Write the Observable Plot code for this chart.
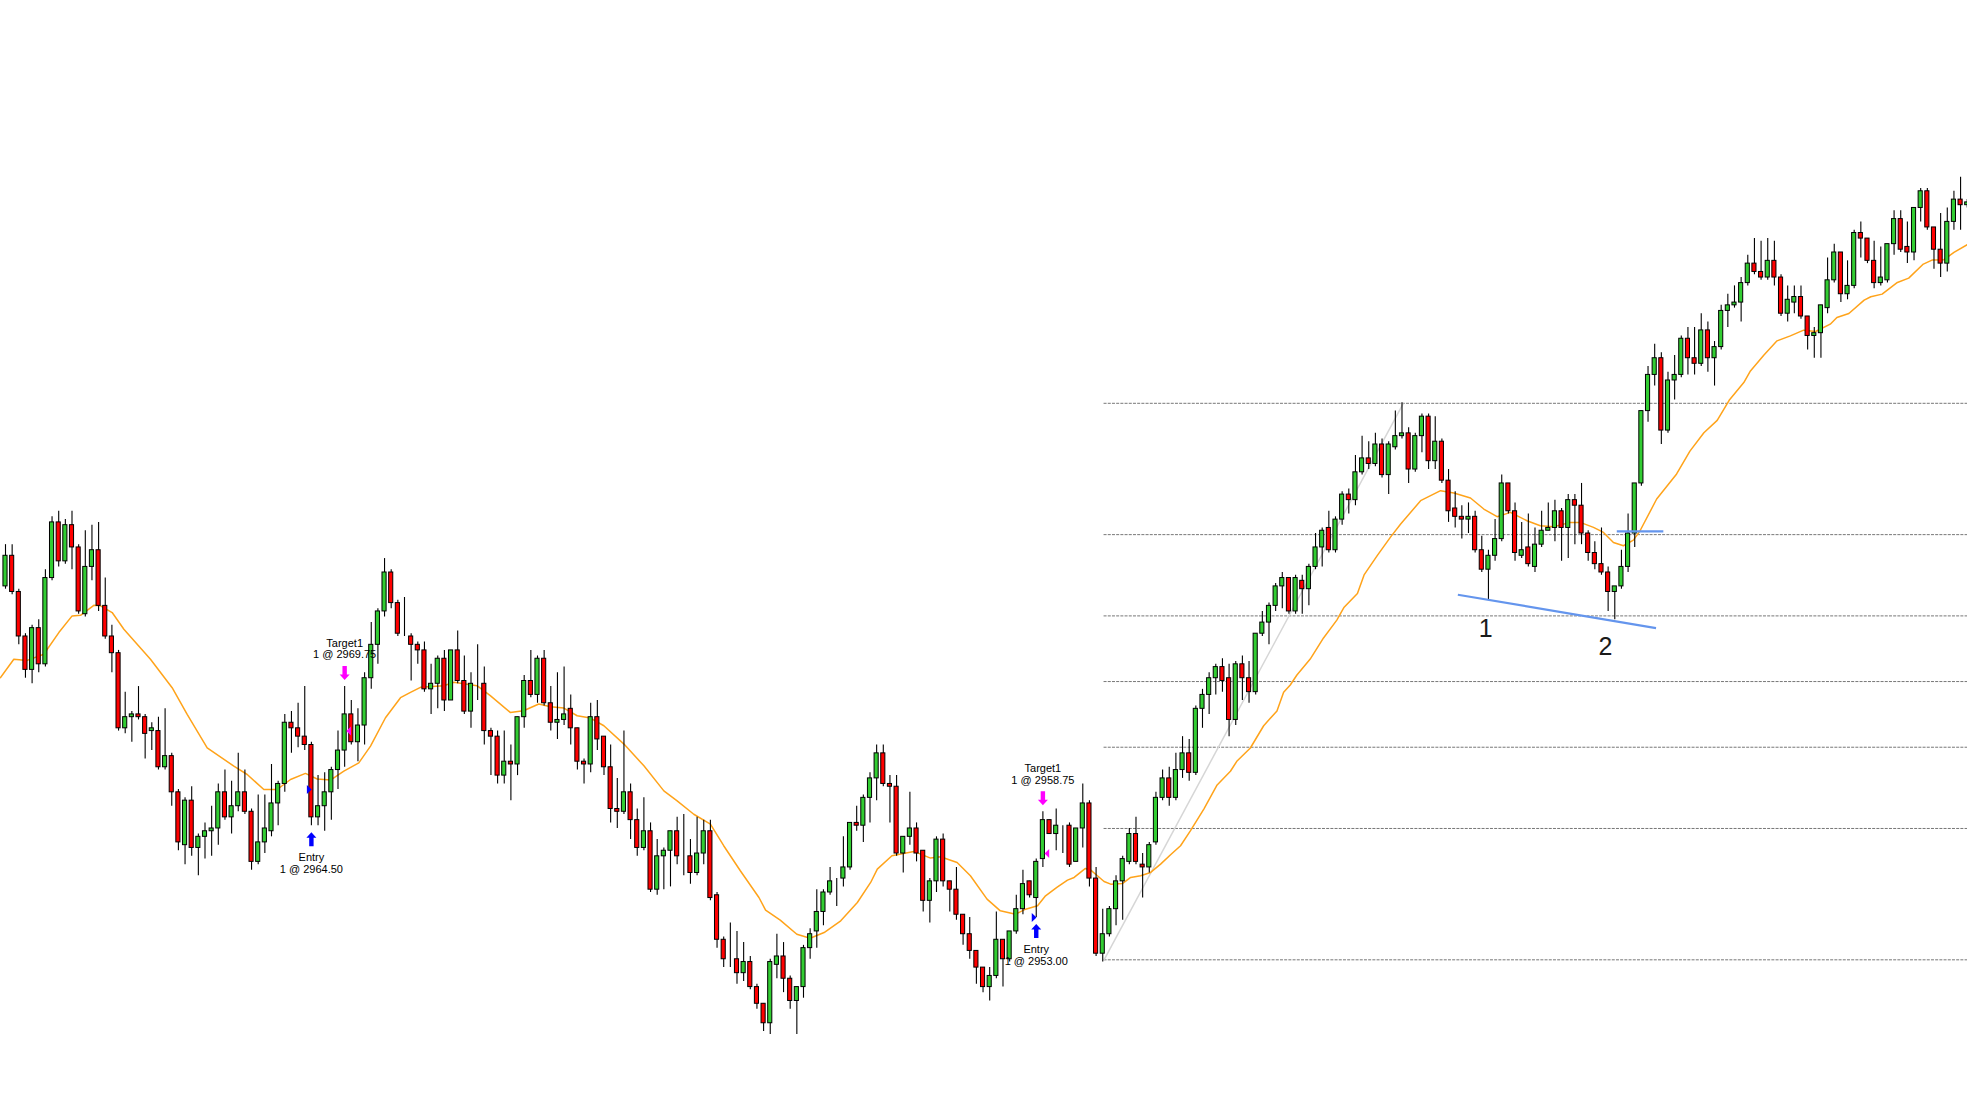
<!DOCTYPE html>
<html>
<head>
<meta charset="utf-8">
<script src="https://cdn.jsdelivr.net/npm/d3@7"></script>
<script src="https://cdn.jsdelivr.net/npm/@observablehq/plot@0.6"></script>
<style>
  html, body { margin: 0; padding: 0; background: #fff; overflow: hidden; }
</style>
</head>
<body>
<div id="chart"></div>
<script>
// candle values, one entry per bar
const opens = [
  2982.75, 2985.5, 2982.25, 2978.25, 2975.25, 2979.0, 2975.75, 2983.5, 2988.5, 2985.0,
  2988.25, 2986.25, 2980.25, 2984.5, 2986.0, 2981.0, 2978.25, 2976.75, 2970.0, 2971.0,
  2971.25, 2971.0, 2969.75, 2969.75, 2966.5, 2967.5, 2964.25, 2959.5, 2963.5, 2959.25,
  2960.25, 2960.75, 2961.0, 2964.25, 2962.0, 2963.0, 2964.25, 2962.5, 2958.0, 2959.75,
  2960.75, 2963.25, 2965.0, 2970.5, 2970.0, 2969.25, 2968.5, 2962.0, 2963.0, 2964.25,
  2966.25, 2968.0, 2971.25, 2968.75, 2970.25, 2974.5, 2977.5, 2980.5, 2984.0, 2981.25,
  2978.25, 2978.25, 2977.5, 2977.0, 2973.5, 2974.0, 2976.25, 2972.5, 2977.0, 2974.25,
  2971.5, 2974.0, 2974.0, 2969.75, 2969.25, 2965.75, 2967.0, 2966.75, 2971.0, 2974.25,
  2973.0, 2976.25, 2972.25, 2970.5, 2970.75, 2971.75, 2970.0, 2967.0, 2966.75, 2971.0,
  2969.25, 2966.5, 2962.75, 2962.5, 2964.25, 2961.75, 2959.25, 2960.75, 2955.5, 2958.5,
  2959.0, 2960.75, 2958.5, 2958.5, 2957.0, 2958.75, 2960.75, 2955.0, 2951.0, 2949.25,
  2949.25, 2948.0, 2949.0, 2946.75, 2945.25, 2943.5, 2948.75, 2949.5, 2947.5, 2945.5,
  2946.75, 2950.25, 2951.75, 2953.5, 2955.25, 2956.5, 2956.5, 2957.5, 2961.5, 2961.25,
  2963.75, 2965.5, 2967.75, 2965.0, 2964.75, 2958.75, 2960.25, 2961.0, 2959.0, 2954.5,
  2956.25, 2960.0, 2956.25, 2955.5, 2953.25, 2951.5, 2950.0, 2948.5, 2946.75, 2947.75,
  2951.0, 2949.25, 2951.75, 2953.75, 2956.25, 2954.75, 2958.25, 2961.75, 2960.5, 2961.25,
  2961.25, 2958.0, 2961.0, 2963.25, 2956.5, 2949.75, 2951.5, 2953.75, 2956.25, 2958.0,
  2960.5, 2957.75, 2957.5, 2959.75, 2963.75, 2965.5, 2963.75, 2966.25, 2967.75, 2966.0,
  2971.75, 2973.0, 2974.5, 2975.5, 2974.5, 2970.75, 2975.75, 2974.5, 2973.25, 2978.5,
  2979.5, 2981.0, 2982.75, 2983.5, 2980.5, 2983.25, 2982.5, 2984.5, 2986.25, 2988.0,
  2986.0, 2988.75, 2991.0, 2990.5, 2993.0, 2994.25, 2993.75, 2995.5, 2992.75, 2995.25,
  2996.25, 2996.5, 2993.25, 2996.25, 2998.0, 2994.0, 2995.75, 2992.25, 2989.75, 2989.0,
  2988.75, 2989.0, 2986.0, 2984.25, 2985.5, 2987.0, 2992.0, 2989.5, 2985.5, 2986.25,
  2984.5, 2986.5, 2987.75, 2988.0, 2989.5, 2988.0, 2990.5, 2990.0, 2987.5, 2985.75,
  2984.75, 2984.0, 2982.25, 2982.75, 2984.5, 2987.5, 2992.0, 2998.5, 3001.75, 3003.25,
  2996.75, 3001.25, 3001.75, 3005.0, 3003.25, 3002.75, 3005.75, 3003.25, 3004.25, 3007.5,
  3008.0, 3008.25, 3010.0, 3011.75, 3011.0, 3010.5, 3012.0, 3010.5, 3007.25, 3008.25,
  3008.75, 3007.0, 3005.25, 3005.5, 3007.75, 3010.25, 3012.75, 3009.0, 3009.75, 3014.5,
  3014.0, 3012.0, 3010.0, 3010.25, 3013.5, 3015.75, 3013.25, 3012.75, 3016.75, 3018.25,
  3015.0, 3013.0, 3011.75, 3015.5, 3017.5, 3017.0
];
const highs = [
  2986.5, 2986.5, 2982.5, 2978.5, 2979.25, 2979.75, 2984.25, 2989.0, 2989.5, 2988.75,
  2989.5, 2986.5, 2987.75, 2988.25, 2988.5, 2983.5, 2979.25, 2977.0, 2973.25, 2971.5,
  2973.75, 2971.25, 2970.5, 2971.0, 2971.75, 2967.75, 2964.5, 2963.75, 2964.75, 2960.5,
  2961.5, 2963.0, 2965.0, 2966.25, 2965.25, 2967.75, 2966.25, 2962.75, 2964.0, 2964.0,
  2966.75, 2965.25, 2971.25, 2971.5, 2972.25, 2973.75, 2968.75, 2965.75, 2966.0, 2966.5,
  2969.75, 2973.75, 2972.5, 2971.75, 2975.0, 2979.5, 2980.75, 2985.25, 2984.25, 2981.5,
  2981.75, 2978.5, 2977.75, 2977.75, 2975.75, 2976.5, 2977.0, 2977.0, 2978.75, 2976.5,
  2975.0, 2977.5, 2975.5, 2970.0, 2969.75, 2969.75, 2968.5, 2971.0, 2974.75, 2977.0,
  2976.5, 2977.0, 2973.75, 2975.0, 2975.5, 2973.0, 2970.0, 2967.25, 2972.25, 2972.5,
  2969.25, 2968.5, 2965.5, 2969.75, 2965.0, 2962.75, 2963.75, 2961.5, 2960.0, 2959.25,
  2960.75, 2962.0, 2962.25, 2960.0, 2962.0, 2961.75, 2961.75, 2955.25, 2951.25, 2952.5,
  2951.75, 2950.75, 2949.5, 2947.0, 2945.25, 2949.25, 2951.5, 2950.75, 2947.75, 2946.75,
  2950.5, 2952.0, 2955.5, 2955.5, 2957.5, 2956.5, 2960.25, 2961.5, 2963.0, 2964.0,
  2966.0, 2968.5, 2968.5, 2965.75, 2965.75, 2960.25, 2964.25, 2961.5, 2959.0, 2956.5,
  2960.25, 2960.5, 2956.25, 2957.5, 2953.25, 2953.0, 2950.0, 2948.5, 2948.5, 2953.5,
  2951.0, 2951.75, 2955.0, 2957.25, 2956.25, 2958.25, 2962.5, 2961.75, 2962.75, 2961.25,
  2961.5, 2961.0, 2965.0, 2963.5, 2957.5, 2953.75, 2954.0, 2956.75, 2958.5, 2961.0,
  2962.0, 2958.75, 2959.75, 2964.25, 2966.25, 2966.5, 2967.75, 2969.25, 2969.0, 2972.0,
  2973.5, 2975.0, 2975.75, 2976.25, 2975.75, 2976.0, 2976.5, 2976.0, 2978.5, 2980.5,
  2981.25, 2983.0, 2984.0, 2983.5, 2983.75, 2983.75, 2984.75, 2987.5, 2988.0, 2989.5,
  2989.0, 2991.25, 2991.5, 2994.5, 2996.25, 2995.75, 2996.5, 2996.0, 2995.75, 2998.5,
  2999.25, 2997.0, 2996.5, 2998.25, 2998.25, 2998.0, 2996.0, 2993.25, 2991.25, 2990.0,
  2990.25, 2989.5, 2987.25, 2986.0, 2988.75, 2992.75, 2992.0, 2990.25, 2988.5, 2989.25,
  2988.0, 2989.5, 2990.25, 2990.5, 2989.75, 2991.0, 2991.0, 2992.0, 2987.75, 2986.75,
  2988.0, 2984.5, 2982.75, 2986.0, 2989.25, 2992.0, 2998.5, 3002.5, 3004.5, 3003.75,
  3002.0, 3003.5, 3005.25, 3006.0, 3006.0, 3007.25, 3006.5, 3004.75, 3008.0, 3009.0,
  3009.75, 3010.5, 3012.5, 3014.0, 3013.75, 3014.0, 3013.75, 3010.75, 3009.75, 3009.75,
  3009.75, 3007.0, 3006.0, 3008.0, 3012.25, 3013.5, 3012.75, 3012.0, 3014.75, 3015.5,
  3014.0, 3013.75, 3013.25, 3013.5, 3016.5, 3016.5, 3015.5, 3016.75, 3018.5, 3018.5,
  3015.0, 3016.25, 3016.75, 3018.25, 3019.5, 3017.5
];
const lows = [
  2982.5, 2982.0, 2977.5, 2974.5, 2974.0, 2975.0, 2975.5, 2983.25, 2984.5, 2984.75,
  2984.25, 2980.25, 2980.0, 2983.25, 2980.5, 2978.0, 2975.0, 2969.75, 2969.5, 2968.75,
  2970.75, 2967.25, 2968.0, 2966.25, 2966.25, 2963.0, 2959.0, 2957.75, 2958.5, 2956.75,
  2958.25, 2958.5, 2959.5, 2961.75, 2960.5, 2962.5, 2962.25, 2957.25, 2957.75, 2958.75,
  2960.25, 2961.25, 2964.25, 2967.75, 2968.25, 2968.0, 2961.25, 2961.25, 2960.75, 2961.75,
  2964.5, 2966.5, 2968.5, 2967.0, 2968.5, 2973.5, 2975.75, 2980.0, 2980.75, 2978.25,
  2978.25, 2974.25, 2975.75, 2973.25, 2971.25, 2971.75, 2971.5, 2972.5, 2974.0, 2971.25,
  2970.0, 2972.5, 2968.5, 2965.75, 2965.0, 2965.0, 2963.5, 2965.75, 2970.0, 2972.75,
  2972.25, 2972.0, 2969.75, 2969.0, 2970.25, 2968.5, 2966.25, 2965.0, 2966.0, 2968.0,
  2965.75, 2961.5, 2961.0, 2962.25, 2960.0, 2958.5, 2959.0, 2955.25, 2955.0, 2955.5,
  2955.75, 2957.75, 2956.75, 2956.0, 2956.75, 2957.75, 2954.5, 2950.25, 2948.5, 2948.5,
  2947.0, 2947.25, 2946.5, 2944.75, 2942.75, 2942.5, 2947.5, 2946.25, 2944.75, 2942.5,
  2945.75, 2949.25, 2950.25, 2952.25, 2955.0, 2954.0, 2955.75, 2957.25, 2960.75, 2959.75,
  2961.5, 2963.5, 2964.75, 2961.5, 2958.5, 2957.0, 2959.5, 2958.0, 2953.5, 2952.5,
  2955.25, 2955.75, 2953.5, 2952.75, 2950.5, 2949.25, 2947.0, 2946.25, 2945.5, 2947.5,
  2946.75, 2949.0, 2951.5, 2953.25, 2954.75, 2953.0, 2957.5, 2960.5, 2959.0, 2958.75,
  2957.5, 2958.0, 2959.25, 2955.75, 2949.5, 2949.0, 2951.25, 2952.25, 2952.75, 2957.75,
  2957.75, 2954.75, 2957.0, 2959.5, 2963.5, 2963.0, 2963.5, 2965.5, 2965.25, 2965.75,
  2970.0, 2971.25, 2973.0, 2973.25, 2969.25, 2970.25, 2972.5, 2972.25, 2973.0, 2978.25,
  2977.5, 2980.5, 2980.75, 2980.25, 2980.25, 2980.25, 2981.0, 2984.25, 2984.5, 2985.75,
  2985.75, 2988.25, 2989.25, 2990.0, 2992.75, 2993.25, 2993.5, 2992.5, 2991.0, 2995.0,
  2996.0, 2992.0, 2993.0, 2994.75, 2993.25, 2993.25, 2992.0, 2988.5, 2988.0, 2987.0,
  2987.5, 2985.75, 2984.0, 2981.5, 2985.0, 2986.75, 2989.25, 2985.0, 2985.25, 2984.5,
  2984.0, 2986.25, 2987.75, 2986.75, 2985.0, 2985.25, 2986.5, 2986.5, 2985.0, 2984.25,
  2983.75, 2980.5, 2979.75, 2982.5, 2984.0, 2986.25, 2991.75, 2997.5, 3000.75, 2995.5,
  2996.5, 2999.5, 3001.5, 3001.75, 3001.75, 3002.5, 3002.0, 3000.75, 3004.0, 3006.0,
  3007.75, 3006.5, 3009.75, 3010.75, 3010.25, 3010.25, 3009.75, 3007.0, 3006.5, 3007.25,
  3006.75, 3004.0, 3003.25, 3003.25, 3007.25, 3010.0, 3008.25, 3008.5, 3009.5, 3012.25,
  3011.75, 3009.5, 3009.75, 3010.0, 3012.5, 3012.75, 3011.75, 3012.0, 3015.5, 3014.75,
  3011.25, 3010.5, 3011.0, 3014.75, 3014.75, 3016.75
];
const closes = [
  2985.5, 2982.25, 2978.25, 2975.25, 2979.0, 2975.75, 2983.5, 2988.5, 2985.0, 2988.25,
  2986.25, 2980.5, 2984.5, 2986.0, 2981.0, 2978.25, 2976.75, 2970.0, 2971.0, 2971.25,
  2971.0, 2969.5, 2970.0, 2966.5, 2967.5, 2964.25, 2959.75, 2963.5, 2959.25, 2960.25,
  2960.75, 2961.0, 2964.25, 2962.0, 2963.0, 2964.25, 2962.5, 2958.0, 2959.75, 2961.0,
  2963.25, 2965.0, 2970.5, 2970.0, 2969.25, 2968.5, 2962.0, 2963.0, 2964.25, 2966.25,
  2968.0, 2971.25, 2968.75, 2970.25, 2974.5, 2977.5, 2980.5, 2984.0, 2981.25, 2978.5,
  2978.25, 2977.5, 2977.0, 2973.5, 2974.0, 2976.25, 2972.5, 2977.0, 2974.25, 2971.5,
  2974.0, 2974.0, 2969.75, 2969.25, 2965.75, 2967.0, 2966.75, 2971.0, 2974.25, 2973.0,
  2976.25, 2972.25, 2970.5, 2970.75, 2971.25, 2970.0, 2967.0, 2966.75, 2971.0, 2969.0,
  2966.5, 2962.75, 2962.5, 2964.25, 2961.75, 2959.25, 2960.75, 2955.5, 2958.5, 2959.0,
  2960.75, 2958.5, 2958.5, 2957.0, 2958.75, 2960.75, 2954.75, 2951.0, 2949.25, 2949.25,
  2948.0, 2949.0, 2946.75, 2945.25, 2943.5, 2949.0, 2949.5, 2947.5, 2945.5, 2946.75,
  2950.25, 2951.5, 2953.5, 2955.25, 2956.25, 2956.5, 2957.5, 2961.5, 2961.25, 2963.75,
  2965.5, 2967.75, 2965.0, 2964.75, 2958.75, 2960.25, 2961.0, 2958.75, 2954.5, 2956.25,
  2960.0, 2956.25, 2955.5, 2953.25, 2951.5, 2950.0, 2948.5, 2946.75, 2947.75, 2951.0,
  2949.25, 2951.75, 2953.75, 2956.0, 2955.0, 2958.0, 2961.75, 2960.5, 2961.25, 2961.25,
  2957.75, 2961.0, 2963.25, 2956.5, 2949.75, 2951.5, 2953.75, 2956.25, 2958.25, 2960.5,
  2958.0, 2957.5, 2959.5, 2963.75, 2965.5, 2963.75, 2966.25, 2967.75, 2966.0, 2971.75,
  2973.0, 2974.5, 2975.5, 2974.25, 2970.75, 2975.75, 2974.5, 2973.25, 2978.5, 2979.5,
  2981.0, 2982.75, 2983.5, 2980.5, 2983.5, 2982.5, 2984.5, 2986.25, 2987.75, 2986.0,
  2988.75, 2991.0, 2990.5, 2993.0, 2994.25, 2993.75, 2995.5, 2992.75, 2995.5, 2996.25,
  2996.5, 2993.25, 2996.25, 2998.0, 2994.0, 2995.75, 2992.25, 2989.5, 2989.0, 2988.75,
  2989.0, 2986.0, 2984.25, 2985.5, 2987.0, 2992.0, 2989.5, 2985.75, 2986.0, 2984.75,
  2986.5, 2987.75, 2988.0, 2989.5, 2988.0, 2990.5, 2990.0, 2987.5, 2985.75, 2984.75,
  2984.0, 2982.25, 2982.75, 2984.5, 2987.5, 2992.0, 2998.5, 3001.75, 3003.25, 2996.75,
  3001.25, 3001.75, 3005.0, 3003.25, 3002.75, 3005.75, 3003.25, 3004.25, 3007.5, 3008.0,
  3008.25, 3010.0, 3011.75, 3011.0, 3010.5, 3012.0, 3010.5, 3007.25, 3008.5, 3008.75,
  3007.0, 3005.25, 3005.5, 3008.0, 3010.25, 3012.75, 3009.0, 3009.75, 3014.5, 3014.0,
  3012.0, 3010.0, 3010.5, 3013.5, 3015.75, 3013.0, 3012.75, 3016.75, 3018.25, 3015.0,
  3013.0, 3011.75, 3015.5, 3017.5, 3017.0, 3017.25
];

// moving average line, sampled along the bars (bar index, price)
const emaIdx = [
  -0.75, 1.25, 3.26, 5.76, 8.02, 10.02, 11.28, 13.28, 14.29, 16.04, 17.8, 21.8, 25.06, 27.32,
  30.33, 34.34, 36.35, 38.85, 40.85, 42.86, 45.1, 46.87, 48.87, 50.88, 53.13, 54.89, 57.14,
  59.4, 60.9, 62.4, 65.9, 67.4, 70.9, 72.9, 75.9, 77.9, 80.2, 81.95, 83.96, 85.97, 87.97,
  89.98, 93.0, 96.0, 99.0, 101.0, 103.5, 106.0, 108.0, 110.5, 113.3, 114.3, 116.5, 119.0,
  121.0, 123.1, 125.6, 128.1, 130.1, 131.1, 133.3, 136.6, 139.1, 140.6, 143.1, 145.1, 147.6,
  149.6, 151.9, 153.4, 155.2, 156.4, 158.1, 159.7, 160.7, 162.4, 163.2, 164.2, 165.2, 166.2,
  168.0, 169.2, 170.7, 172.2, 173.7, 175.2, 176.7, 178.2, 180.2, 182.2, 184.2, 185.2, 187.2,
  189.2, 191.2, 192.2, 193.2, 194.2, 196.2, 198.2, 200.2, 201.3, 203.3, 204.3, 206.3, 208.3,
  209.8, 212.8, 215.8, 217.8, 220.3, 222.3, 224.3, 226.3, 228.8, 230.8, 232.8, 235.3, 236.8,
  238.8, 240.3, 241.8, 243.3, 244.8, 245.8, 248.3, 251.3, 253.3, 255.4, 257.4, 259.2, 261.4,
  262.4, 264.4, 266.4, 268.4, 270.4, 272.2, 274.4, 275.4, 277.2, 279.5, 280.5, 282.2, 284.5,
  286.2, 288.4, 289.7, 291.5, 293.0, 295.0
];
const emaVal = [
  2974.55, 2976.2, 2976.1, 2976.65, 2978.6, 2980.1, 2980.15, 2981.05, 2981.0, 2980.4, 2978.9,
  2976.2, 2973.65, 2971.25, 2968.25, 2966.6, 2965.85, 2964.5, 2964.5, 2965.4, 2965.95, 2965.45,
  2965.35, 2966.15, 2966.9, 2968.4, 2970.95, 2972.75, 2973.23, 2973.68, 2973.83, 2974.13,
  2973.83, 2972.93, 2971.43, 2971.58, 2972.18, 2971.94, 2971.82, 2971.13, 2970.92, 2970.23,
  2968.58, 2966.63, 2964.38, 2963.48, 2962.28, 2961.4, 2959.45, 2957.2, 2954.8, 2953.66,
  2952.76, 2951.5, 2951.14, 2951.65, 2952.7, 2954.35, 2956.15, 2957.35, 2958.55, 2958.94,
  2958.34, 2958.46, 2957.95, 2956.75, 2954.65, 2953.6, 2953.3, 2953.75, 2954.05, 2954.95,
  2955.7, 2956.36, 2956.6, 2957.41, 2957.26, 2956.75, 2956.24, 2956.0, 2956.06, 2956.6,
  2956.75, 2957.05, 2957.8, 2958.64, 2959.45, 2960.8, 2962.74, 2964.91, 2966.14, 2967.07,
  2968.23, 2970.23, 2971.56, 2973.23, 2973.89, 2974.79, 2976.22, 2978.12, 2979.72, 2980.88,
  2982.11, 2983.78, 2985.54, 2987.2, 2988.35, 2990.45, 2991.35, 2991.14, 2990.69, 2989.7,
  2989.01, 2989.4, 2988.65, 2988.2, 2988.11, 2988.5, 2988.5, 2988.05, 2987.6, 2986.7, 2986.4,
  2986.91, 2987.75, 2990.6, 2992.85, 2994.9, 2996.56, 2997.67, 2999.47, 3001.06, 3002.11,
  3003.52, 3004.81, 3005.26, 3005.77, 3005.65, 3006.31, 3006.91, 3007.27, 3008.47, 3008.77,
  3009.01, 3010.06, 3010.45, 3011.71, 3012.07, 3012.1, 3012.76, 3013.45
];

// retracement levels and the swing they are drawn from
const fibPrices = [2949.2, 2961.0, 2968.3, 2974.2, 2980.1, 2987.4, 2999.2];
const fibAnchorIdx = [165.2, 210.2];
const fibAnchorPrice = [2949.2, 2999.2];

// hand-drawn blue lines
const blueLineIdx = [[218.4, 248.2], [242.3, 249.3]];
const bluePrice = [[2982.0, 2979.0], [2987.7, 2987.7]];

// swing labels
const waveLabels = ["1", "2"];
const waveIdx = [222.6, 240.6];
const wavePrice = [2978.9, 2977.3];

// trades
const entryIdx = [46, 155];
const entryPrice = [2964.5, 2953.0];
const targetIdx = [51, 156];
const targetPrice = [2969.75, 2958.75];

const candles = opens.map((o, i) => ({
  i, open: o, high: highs[i], low: lows[i], close: closes[i]
}));

const entries = entryIdx.map((k, j) => ({k, price: entryPrice[j], low: lows[k]}));
const targets = targetIdx.map((k, j) => ({k, price: targetPrice[j], high: highs[k]}));
const fmt = d3.format(".2f");

const fibSwing = [{x1: fibAnchorIdx[0], y1: fibAnchorPrice[0], x2: fibAnchorIdx[1], y2: fibAnchorPrice[1]}];
const blueLines = blueLineIdx.map((xs, j) => ({x1: xs[0], x2: xs[1], y1: bluePrice[j][0], y2: bluePrice[j][1]}));
const waves = waveLabels.map((t, j) => ({t, k: waveIdx[j], p: wavePrice[j]}));

// marker shapes (pixel units)
const arrowUp = {draw(c) {
  c.moveTo(0, -7); c.lineTo(5, -1.5); c.lineTo(2.2, -1.5); c.lineTo(2.2, 7);
  c.lineTo(-2.2, 7); c.lineTo(-2.2, -1.5); c.lineTo(-5, -1.5); c.closePath();
}};
const arrowDown = {draw(c) {
  c.moveTo(0, 7); c.lineTo(5, 1.5); c.lineTo(2.2, 1.5); c.lineTo(2.2, -7);
  c.lineTo(-2.2, -7); c.lineTo(-2.2, 1.5); c.lineTo(-5, 1.5); c.closePath();
}};
const triRight = {draw(c) {
  c.moveTo(-4.5, -4.5); c.lineTo(0.3, 0); c.lineTo(-4.5, 4.5); c.closePath();
}};
const triLeft = {draw(c) {
  c.moveTo(1.7, 0); c.lineTo(6.3, -4.5); c.lineTo(6.3, 4.5); c.closePath();
}};

const font = "Liberation Sans, Arial, Helvetica, sans-serif";
const halfBody = 0.31;

const chart = Plot.plot({
  width: 1967,
  height: 1099,
  margin: 0,
  style: {background: "#fff", fontFamily: font},
  x: {domain: [-0.752, 295.04], range: [0, 1967], axis: null},
  y: {domain: [2936.65, 3035.39], range: [1099, 0], axis: null},
  marks: [
    Plot.ruleY(fibPrices, {
      y: d => d, x1: () => fibAnchorIdx[0], x2: () => 300,
      stroke: "#777", strokeWidth: 1, strokeDasharray: "3,1.2"
    }),
    Plot.link(fibSwing, {
      x1: "x1", y1: "y1", x2: "x2", y2: "y2",
      stroke: "#d6d6d6", strokeWidth: 1.5
    }),
    Plot.line(emaIdx.map((k, j) => [k, emaVal[j]]), {
      x: d => d[0], y: d => d[1], stroke: "#ffa31a", strokeWidth: 1.5
    }),
    // wicks
    Plot.ruleX(candles, {x: "i", y1: "low", y2: "high", stroke: "#000", strokeWidth: 1.1}),
    // bodies
    Plot.rect(candles, {
      x1: d => d.i - halfBody,
      x2: d => d.i + halfBody,
      y1: d => Math.min(d.open, d.close),
      y2: d => Math.max(d.open, d.close),
      fill: d => d.close >= d.open ? "#32cd32" : "#ff0000",
      stroke: "#000",
      strokeWidth: 1
    }),
    Plot.link(blueLines, {
      x1: "x1", y1: "y1", x2: "x2", y2: "y2",
      stroke: "#6495ed", strokeWidth: 2.2
    }),
    Plot.text(waves, {
      x: "k", y: "p", text: "t", fontSize: 25, fill: "#1a1a1a",
      fontFamily: font, lineAnchor: "middle"
    }),
    // entry markers
    Plot.dot(entries, {x: "k", y: "price", symbol: triRight, fill: "#0000ff", stroke: "none"}),
    Plot.dot(entries, {x: "k", y: "low", dy: 13.5, symbol: arrowUp, fill: "#0000ff", stroke: "none"}),
    Plot.text(entries, {
      x: "k", y: "low", dy: 32, text: () => "Entry",
      fontSize: 11, fontFamily: font, fill: "#000", lineAnchor: "middle"
    }),
    Plot.text(entries, {
      x: "k", y: "low", dy: 44, text: d => `1 @ ${fmt(d.price)}`,
      fontSize: 11, fontFamily: font, fill: "#000", lineAnchor: "middle"
    }),
    // target markers
    Plot.dot(targets, {x: "k", y: "price", symbol: triLeft, fill: "#ff00ff", stroke: "none"}),
    Plot.dot(targets, {x: "k", y: "high", dy: -13.5, symbol: arrowDown, fill: "#ff00ff", stroke: "none"}),
    Plot.text(targets, {
      x: "k", y: "high", dy: -43.5, text: () => "Target1",
      fontSize: 11, fontFamily: font, fill: "#000", lineAnchor: "middle"
    }),
    Plot.text(targets, {
      x: "k", y: "high", dy: -31.7, text: d => `1 @ ${fmt(d.price)}`,
      fontSize: 11, fontFamily: font, fill: "#000", lineAnchor: "middle"
    })
  ]
});

document.getElementById("chart").append(chart);
</script>
</body>
</html>
